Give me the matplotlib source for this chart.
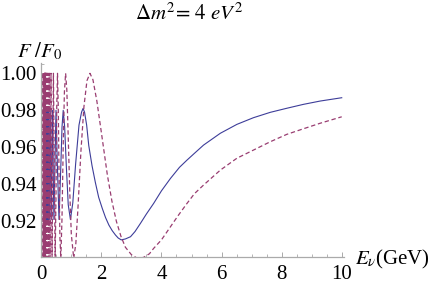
import numpy as np
import matplotlib
matplotlib.use("Agg")
import matplotlib.pyplot as plt
from matplotlib.ticker import MultipleLocator, FormatStrFormatter

# values (E in GeV, F/F0)
e_solid = [0.0833, 0.0858, 0.0883, 0.0909, 0.0938, 0.0968, 0.100, 0.1035, 0.107, 0.111,
           0.115, 0.120, 0.125, 0.131, 0.136, 0.143, 0.150, 0.158, 0.166, 0.176,
           0.187, 0.199, 0.213, 0.229, 0.248, 0.270, 0.297, 0.33, 0.37, 0.42,
           0.49, 0.536, 0.59, 0.651, 0.69, 0.73, 0.778, 0.833, 0.897, 0.97,
           1.049, 1.143, 1.255, 1.34, 1.39, 1.44, 1.51, 1.58, 1.69, 1.80,
           1.91, 2.03, 2.14, 2.25, 2.36, 2.47, 2.56, 2.66, 2.80, 2.97,
           3.12, 3.30, 3.50, 3.74, 4.00, 4.30, 4.60, 4.85, 5.10, 5.40,
           5.96, 6.51, 7.06, 7.62, 8.17, 8.72, 9.28, 10.0]
f_solid = [0.980, 0.921, 0.980, 0.921, 0.980, 0.921, 0.980, 0.921, 0.980, 0.921,
           0.980, 0.921, 0.980, 0.921, 0.980, 0.921, 0.980, 0.921, 0.980, 0.921,
           0.980, 0.921, 0.980, 0.921, 0.980, 0.921, 0.980, 0.921, 0.980, 0.921,
           0.980, 0.950, 0.921, 0.950, 0.971, 0.980, 0.971, 0.950, 0.929, 0.921,
           0.930, 0.951, 0.972, 0.979, 0.981, 0.979, 0.972, 0.961, 0.950, 0.941,
           0.933, 0.927, 0.922, 0.918, 0.915, 0.9126, 0.911, 0.910, 0.9105, 0.9117,
           0.9145, 0.9189, 0.924, 0.9297, 0.9365, 0.9432, 0.9492, 0.9531, 0.9568, 0.9612,
           0.9676, 0.9724, 0.9760, 0.9789, 0.9811, 0.9832, 0.985, 0.9868]

e_dash = [0.062, 0.0647, 0.0674, 0.0703, 0.0735, 0.077, 0.081, 0.083, 0.085, 0.087,
          0.090, 0.092, 0.095, 0.098, 0.101, 0.104, 0.108, 0.112, 0.116, 0.120,
          0.124, 0.129, 0.135, 0.141, 0.147, 0.154, 0.162, 0.170, 0.180, 0.190,
          0.202, 0.216, 0.231, 0.249, 0.270, 0.294, 0.323, 0.359, 0.404, 0.462,
          0.49, 0.515, 0.54, 0.565, 0.59, 0.62, 0.65, 0.69, 0.73, 0.77,
          0.81, 0.85, 0.90, 0.95, 1.00, 1.08, 1.15, 1.22, 1.32, 1.42,
          1.52, 1.62, 1.72, 1.85, 2.00, 2.2, 2.35, 2.5, 2.65, 2.8,
          3.0, 3.2, 3.4, 3.6, 3.74, 4.0, 4.30, 4.55, 4.85, 5.10,
          5.40, 5.96, 6.51, 7.06, 7.62, 8.17, 8.72, 9.28, 10.0]
f_dash = [1.0, 0.90, 1.0, 0.90, 1.0, 0.90, 1.0, 0.90, 1.0, 0.90,
          1.0, 0.90, 1.0, 0.90, 1.0, 0.90, 1.0, 0.90, 1.0, 0.90,
          1.0, 0.90, 1.0, 0.90, 1.0, 0.90, 1.0, 0.90, 1.0, 0.90,
          1.0, 0.90, 1.0, 0.90, 1.0, 0.90, 1.0, 0.90, 1.0, 0.90,
          0.934, 0.982, 1.0, 0.982, 0.947, 0.9115, 0.900, 0.922, 0.961, 0.990,
          1.0, 0.991, 0.964, 0.935, 0.913, 0.900, 0.908, 0.927, 0.958, 0.982,
          0.996, 1.0, 0.9965, 0.985, 0.968, 0.945, 0.931, 0.920, 0.912, 0.906,
          0.902, 0.900, 0.9005, 0.9025, 0.9054, 0.910, 0.9171, 0.923, 0.9297, 0.935,
          0.9396, 0.9477, 0.9541, 0.9585, 0.963, 0.967, 0.970, 0.973, 0.9765]

title = r"$\Delta m^2\!=\,\mathit{4\ eV^2}$"

plt.rcParams["mathtext.fontset"] = "stix"
plt.rcParams["font.family"] = "Liberation Serif"

fig = plt.figure(figsize=(4.36, 2.84), dpi=100)
ax = fig.add_axes([0.0933, 0.0961, 0.696, 0.681])

ax.plot(e_solid, f_solid, color="#3d3d99", lw=0.8)
ax.plot(e_dash, f_dash, color="#993d71", lw=0.9, dashes=(3.5, 2.2))

ax.set_xlim(-0.02, 10.08)
ax.set_ylim(0.9009, 1.0054)

for s in ["top", "right"]:
    ax.spines[s].set_visible(False)
for s in ["left", "bottom"]:
    ax.spines[s].set_color("#aaaaaa")
    ax.spines[s].set_linewidth(0.9)

ax.xaxis.set_major_locator(MultipleLocator(2))
ax.xaxis.set_minor_locator(MultipleLocator(0.5))
ax.set_yticks([0.92, 0.94, 0.96, 0.98, 1.00])
ax.yaxis.set_minor_locator(MultipleLocator(0.005))
ax.yaxis.set_major_formatter(FormatStrFormatter("%.2f"))
ax.tick_params(which="both", direction="in", color="#aaaaaa", labelsize=15)
ax.tick_params(which="major", length=3.5, width=0.7)
ax.tick_params(which="minor", length=2, width=0.6)
ax.tick_params(axis="y", pad=3)
ax.tick_params(axis="x", pad=6)

fig.text(0.435, 0.95, title, fontsize=15, ha="center", va="center")
fig.text(0.04, 0.82, r"$F\ /F_0$", fontsize=15, ha="left", va="center")
fig.text(0.815, 0.085, r"$E_\nu$(GeV)", fontsize=15, ha="left", va="center")

fig.savefig("out.png", dpi=100)
